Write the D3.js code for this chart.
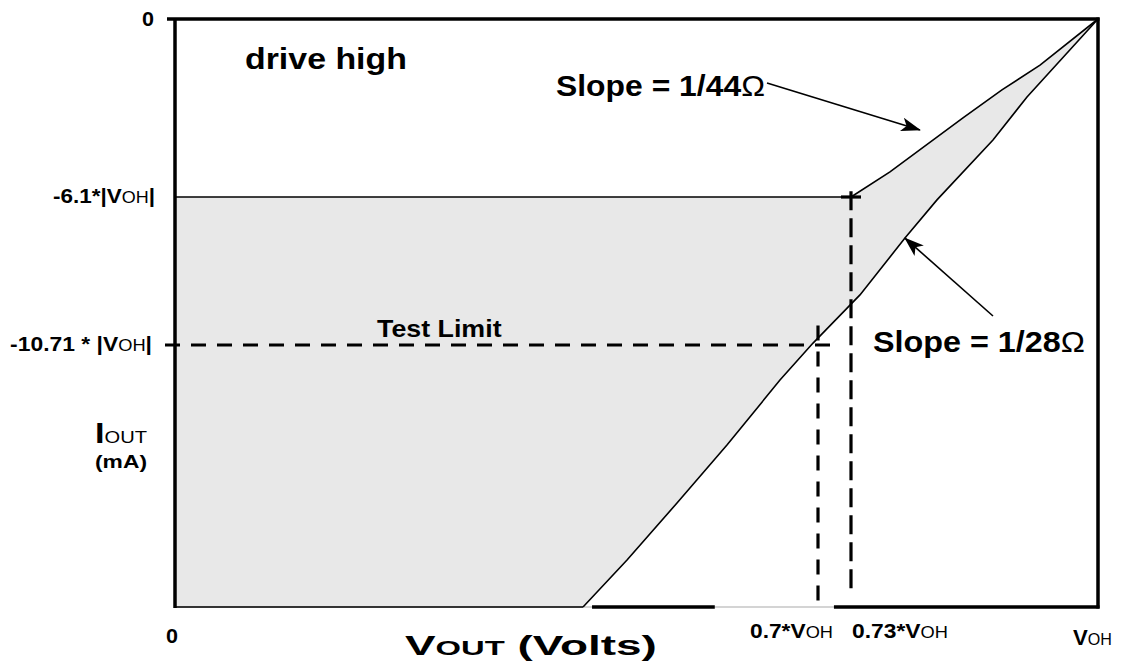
<!DOCTYPE html>
<html><head><meta charset="utf-8">
<script src="https://cdn.jsdelivr.net/npm/d3@7"></script>
<style>
html,body{margin:0;padding:0;background:#fff;}
svg{display:block;font-family:"Liberation Sans",Arial,sans-serif;}
</style></head>
<body>
<svg id="c" width="1121" height="667"></svg>
<script>
// ---- data (x in units of VOH, y in units of |VOH| mA) ----
const xTickValues = [0, 0.7, 0.73, 1];
const xTickLabels = ["0", "0.7*V", "0.73*V", "V"];
const yTickValues = [0, -6.1, -10.71];
const yTickLabels = ["0", "-6.1*|V", "-10.71 * |V"];
const driveLevel = -6.1;
const testLimit = -10.71;
const vTest = 0.7;
const vKnee = 0.73;
// slope 1/44 ohm curve (upper bound)
const upperX = [0.73, 0.7726, 0.8524, 0.895, 0.9366, 1];
const upperY = [-6.1, -5.24, -3.39, -2.43, -1.58, 0];
// slope 1/28 ohm line (lower bound)
const lowerX = [0.4442, 0.4921, 0.5465, 0.6009, 0.6586, 0.6946, 0.7398, 0.789, 0.824, 0.8852, 0.9224, 1];
const lowerY = [-19.3, -17.76, -15.89, -13.99, -11.86, -10.65, -9.15, -7.38, -6.19, -4.15, -2.67, 0];
const yBottom = -19.3;
const bottomSegStart = [0.454, 0.7145];
const bottomSegEnd = [0.586, 1];

const svg = d3.select("#c");
const x = d3.scaleLinear().domain([0, 0.7, 0.73, 1]).range([175, 818, 851, 1098]);
const y = d3.scaleLinear().domain([0, -6.1, -10.71, yBottom]).range([19, 197, 345, 607]);

const upper = upperX.map((v, i) => [v, upperY[i]]);
const lower = lowerX.map((v, i) => [v, lowerY[i]]);

// shaded region
const poly = [[0, driveLevel], ...upper, ...lower.slice().reverse().slice(1), [0, yBottom]];
svg.append("path")
  .attr("d", d3.line().x(d => x(d[0])).y(d => y(d[1]))(poly) + "Z")
  .attr("fill", "#e8e8e8").attr("stroke", "none");

// bottom thin gray line
svg.append("line").attr("x1", x(0)).attr("x2", x(1)).attr("y1", y(yBottom)).attr("y2", y(yBottom))
  .attr("stroke", "#aaa").attr("stroke-width", 1.2);
svg.append("line").attr("x1", x(0)).attr("x2", x(lowerX[0])).attr("y1", y(yBottom)).attr("y2", y(yBottom))
  .attr("stroke", "#000").attr("stroke-width", 1.5);
bottomSegStart.forEach((s, i) => {
  svg.append("line").attr("x1", x(s)).attr("x2", x(bottomSegEnd[i]) + 1.5)
    .attr("y1", y(yBottom)).attr("y2", y(yBottom))
    .attr("stroke", "#000").attr("stroke-width", 3.5);
});

// drive level line
svg.append("line").attr("x1", x(0)).attr("x2", x(vKnee)).attr("y1", y(driveLevel)).attr("y2", y(driveLevel))
  .attr("stroke", "#000").attr("stroke-width", 1.5);

// curves
const lineGen = d3.line().x(d => x(d[0])).y(d => y(d[1]));
svg.append("path").attr("d", lineGen(upper)).attr("fill", "none").attr("stroke", "#000").attr("stroke-width", 1.6);
svg.append("path").attr("d", lineGen(lower)).attr("fill", "none").attr("stroke", "#000").attr("stroke-width", 1.6);

// dashed lines
const dash = "15,11";
svg.append("line").attr("x1", x(0) - 10).attr("x2", x(0.712)).attr("y1", y(testLimit)).attr("y2", y(testLimit))
  .attr("stroke", "#000").attr("stroke-width", 3.2).attr("stroke-dasharray", dash);
svg.append("line").attr("x1", x(vTest)).attr("x2", x(vTest)).attr("y1", y(-10.1)).attr("y2", y(yBottom))
  .attr("stroke", "#000").attr("stroke-width", 3.2).attr("stroke-dasharray", dash);
svg.append("line").attr("x1", x(vKnee)).attr("x2", x(vKnee)).attr("y1", y(-5.9)).attr("y2", y(-18.9))
  .attr("stroke", "#000").attr("stroke-width", 3.2).attr("stroke-dasharray", "19,8");
svg.append("line").attr("x1", x(vKnee) - 10).attr("x2", x(vKnee) + 10).attr("y1", y(driveLevel)).attr("y2", y(driveLevel))
  .attr("stroke", "#000").attr("stroke-width", 3.2);

// frame
svg.append("line").attr("x1", x(0) - 8).attr("x2", x(1) + 1.5).attr("y1", y(0)).attr("y2", y(0))
  .attr("stroke", "#000").attr("stroke-width", 3.5);
svg.append("line").attr("x1", x(0)).attr("x2", x(0)).attr("y1", y(0)).attr("y2", y(yBottom) + 1)
  .attr("stroke", "#000").attr("stroke-width", 3.5);
svg.append("line").attr("x1", x(1)).attr("x2", x(1)).attr("y1", y(0) - 1.5).attr("y2", y(yBottom) + 1.5)
  .attr("stroke", "#000").attr("stroke-width", 3.5);

// arrows
const defs = svg.append("defs");
defs.append("marker").attr("id", "ah").attr("viewBox", "0 0 20 14").attr("refX", 19).attr("refY", 7)
  .attr("markerWidth", 20).attr("markerHeight", 14).attr("markerUnits", "userSpaceOnUse").attr("orient", "auto")
  .append("path").attr("d", "M0,0 L20,7 L0,14 L5,7 Z").attr("fill", "#000");
const arrows = [
  {from: [0.6445, -2.193], to: [0.8054, -3.804]},
  {from: [0.8852, -9.807], to: [0.789, -7.38]}
];
arrows.forEach(a => {
  svg.append("line").attr("x1", x(a.from[0])).attr("y1", y(a.from[1]))
    .attr("x2", x(a.to[0])).attr("y2", y(a.to[1]))
    .attr("stroke", "#000").attr("stroke-width", 1.6).attr("marker-end", "url(#ah)");
});

// ---- text ----
function txt(xp, yp, anchor) {
  return svg.append("text").attr("x", xp).attr("y", yp).attr("text-anchor", anchor || "start").attr("fill", "#000");
}
// horizontally fit a text to a target width, keeping its anchor point fixed
function fit(t, target) {
  const w = t.node().getBBox().width;
  if (!w) return t;
  const s = target / w;
  const ax = +t.attr("x");
  t.attr("transform", `translate(${ax},0) scale(${s},1) translate(${-ax},0)`);
  return t;
}
// y tick labels
const yLabelX = [154, 155, 152];
const yLabelW = [12, 102, 142];
yTickValues.forEach((v, i) => {
  const t = txt(yLabelX[i], y(v) + (i === 0 ? 7 : 6), "end").attr("font-weight", "bold").attr("font-size", 20);
  t.append("tspan").text(yTickLabels[i]);
  if (i > 0) {
    t.append("tspan").attr("font-weight", "normal").attr("font-size", 16).text("OH");
    t.append("tspan").text("|");
  }
  fit(t, yLabelW[i]);
});
// x tick labels
const xLabelPos = [[166, 643], [750, 638], [852, 638], [1073, 645]];
const xLabelW = [12, 83, 96, 39];
xTickValues.forEach((v, i) => {
  const p = xLabelPos[i];
  const t = txt(p[0], p[1]).attr("font-weight", "bold").attr("font-size", i === 3 ? 22 : 20);
  t.append("tspan").text(xTickLabels[i]);
  if (i > 0) t.append("tspan").attr("font-weight", "normal").attr("font-size", 16).text("OH");
  fit(t, xLabelW[i]);
});
// axis titles
const yt = txt(95, 443).attr("font-weight", "bold");
yt.append("tspan").attr("font-size", 29).text("I");
yt.append("tspan").attr("font-weight", "normal").attr("font-size", 17).text("OUT");
fit(yt, 52);
fit(txt(95, 468).attr("font-weight", "bold").attr("font-size", 19).text("(mA)"), 52);
const xt = txt(405, 655).attr("font-weight", "bold").attr("font-size", 28);
xt.append("tspan").text("V");
xt.append("tspan").attr("font-size", 20).text("OUT");
xt.append("tspan").text("  (Volts)");
fit(xt, 252);

// annotations
fit(txt(245, 69).attr("font-weight", "bold").attr("font-size", 29).text("drive high"), 162);
const s1 = txt(556, 96).attr("font-weight", "bold").attr("font-size", 29);
s1.append("tspan").text("Slope = 1/44");
s1.append("tspan").attr("font-weight", "normal").text("Ω");
fit(s1, 209);
const s2 = txt(873, 352).attr("font-weight", "bold").attr("font-size", 29);
s2.append("tspan").text("Slope = 1/28");
s2.append("tspan").attr("font-weight", "normal").text("Ω");
fit(s2, 212);
fit(txt(377, 337).attr("font-weight", "bold").attr("font-size", 23).text("Test Limit"), 125);
</script>
</body></html>
